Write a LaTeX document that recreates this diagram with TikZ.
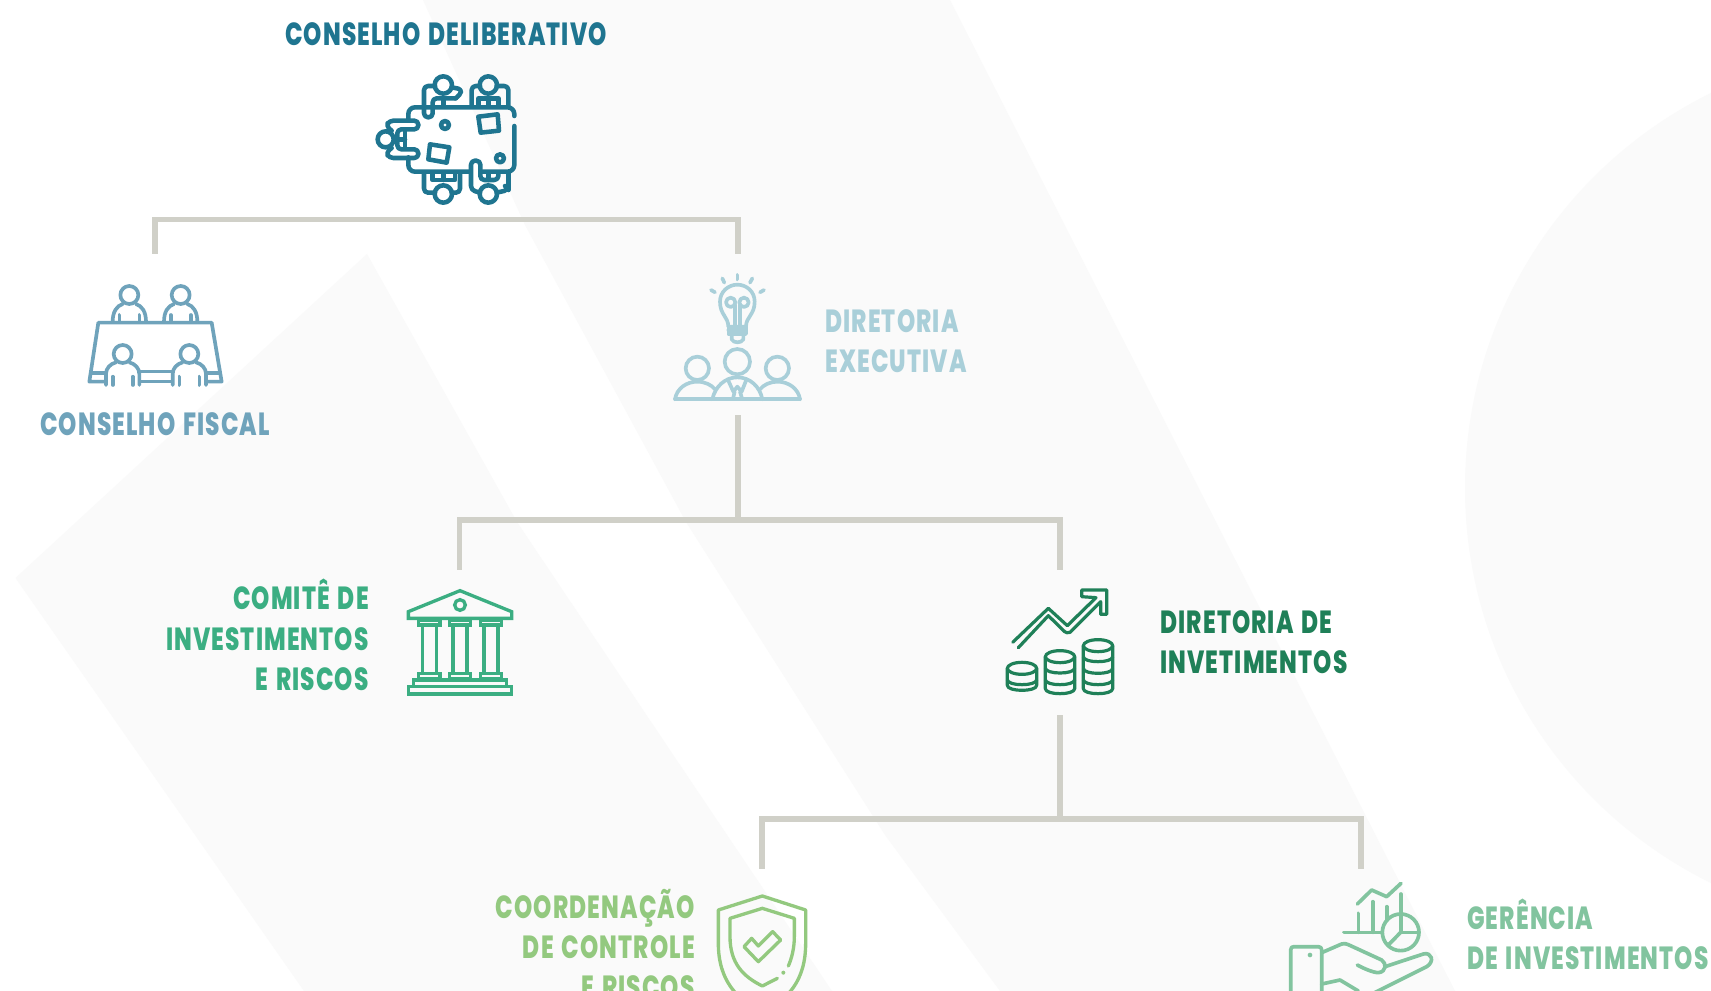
\documentclass[tikz,border=0pt]{standalone}
\usepackage{fontspec}
\newfontfamily\labf{Poppins}[FakeStretch=0.725,LetterSpace=3.5,BoldFont={Poppins ExtraBold},WordSpace=1.4]
\definecolor{bgband}{HTML}{FAFAFA}
\definecolor{connc}{HTML}{D0D0C8}
\definecolor{cdelib}{HTML}{1F7590}
\definecolor{cfisc}{HTML}{6FA3BB}
\definecolor{cexec}{HTML}{A9CFD9}
\definecolor{ccomi}{HTML}{3BAE82}
\definecolor{cinv}{HTML}{1F8058}
\definecolor{ccoord}{HTML}{93C97F}
\definecolor{cger}{HTML}{82C49F}
\tikzset{
 ic/.style={shift={#1},x=.25pt,y=-.25pt,line cap=round,line join=round,line width=3.3pt},
 conn/.style={draw=connc,line width=4.2pt},
 anchorbox/.style={inner sep=0pt,minimum width=20pt,minimum height=#1},
 lab/.style={inner sep=0pt,font=\labf\bfseries\fontsize{24}{30.2}\selectfont},
}
\begin{document}
\begin{tikzpicture}[x=.75pt,y=-.75pt]
\useasboundingbox (0,0) rectangle (1711,991);
\clip (0,0) rectangle (1711,991);
\fill[white] (0,0) rectangle (1711,991);
% background
\fill[bgband] (423,0) -- (950,0) -- (1455,991) -- (1000,991) -- (885,835) -- (686,522) -- (525,225) -- cycle;
\fill[bgband] (367,254) -- (15.5,578) -- (304,991) -- (832,991) -- (680,765) -- (517,522) -- cycle;
\fill[bgband] (1905,488) circle[radius=440];
% layout nodes
\node[anchorbox=10pt] (deliberativo) at (446,139) {};
\node[anchorbox=10pt] (fiscal) at (155,320) {};
\node[anchorbox=120.75pt] (exec) at (738,334.5) {};
\node[anchorbox=100.5pt] (comite) at (459.5,637) {};
\node[anchorbox=108.75pt] (dirinv) at (1060,642.5) {};
\node[anchorbox=100.5pt] (coord) at (762,936) {};
\node[anchorbox=100.5pt] (gerencia) at (1361,936) {};
\coordinate (fisctop) at (155,254);
\coordinate (bus1) at (446,219.5);
\coordinate (bus2) at (738,520);
\coordinate (bus3) at (1060,819);
% connectors
\draw[conn] (fisctop) |- (bus1) -| (exec.north);
\draw[conn] (exec.south) -- (bus2);
\draw[conn] (comite.north) |- (bus2) -| (dirinv.north);
\draw[conn] (dirinv.south) -- (bus3);
\draw[conn] (coord.north) |- (bus3) -| (gerencia.north);
% labels
\node[lab,text=cdelib] (t1) at (446,34) {CONSELHO DELIBERATIVO};
\node[lab,text=cfisc] (t2) at (155,424) {CONSELHO FISCAL};
\node[lab,text=cexec,align=left,anchor=west] (t3) at (825,341) {DIRETORIA\\EXECUTIVA};
\node[lab,text=ccomi,align=right,anchor=east] (t4) at (369,635) {COMITÊ DE\\INVESTIMENTOS\\E RISCOS};
\node[lab,text=cinv,align=left,anchor=west] (t5) at (1160,642) {DIRETORIA DE\\INVETIMENTOS};
\node[lab,text=ccoord,align=right,anchor=east] (t6) at (695,944) {COORDENAÇÃO\\DE CONTROLE\\E RISCOS};
\node[lab,text=cger,align=left,anchor=west] (t7) at (1467,934) {GERÊNCIA\\DE INVESTIMENTOS};
% icon: deliberativo
\begin{scope}[ic={(350,0)},draw=cdelib,line width=3.4pt]
 \draw[rounded corners=5pt] (175,362) -- (175,322) -- (493,322) -- (493,348);
 \draw[rounded corners=5pt] (493,378) -- (493,515) -- (398,515);
 \draw[rounded corners=5pt] (175,472) -- (175,515) -- (360,515);
 \draw (280,255) circle[radius=26];
 \draw (415,255) circle[radius=26];
 \draw (280,582) circle[radius=26];
 \draw (415,582) circle[radius=26];
 \draw (107,418) circle[radius=24];
 \draw[rounded corners=3pt] (255,258) -- (222,258) -- (222,352) -- (248,352) -- (248,295) -- (318,295);
 \draw[rounded corners=2.5pt] (305,262) -- (335,268) -- (330,285) -- (316,295);
 \draw (280,295) -- (280,318);
 \draw[rounded corners=3pt] (365,318) -- (365,258) -- (390,258);
 \draw[rounded corners=3pt] (440,258) -- (475,258) -- (475,318);
 \draw (385,318) -- (385,295) -- (445,295) -- (445,318);
 \draw (415,295) -- (415,318);
 \draw[rounded corners=3pt] (222,518) -- (222,578) -- (255,578);
 \draw (248,518) -- (248,540) -- (315,540) -- (315,518);
 \draw (280,540) -- (280,518);
 \draw[rounded corners=3pt] (330,518) -- (330,578) -- (305,578);
 \draw[rounded corners=3pt] (390,578) -- (363,570) -- (363,482) -- (391,482) -- (391,540) -- (445,540) -- (445,518);
 \draw (415,540) -- (415,518);
 \draw[rounded corners=3pt] (440,578) -- (475,570) -- (465,558);
 \draw (475,570) -- (475,518);
 \draw[rounded corners=3pt] (125,392) -- (108,378) -- (118,362) -- (205,362) -- (205,388) -- (142,388) -- (142,448) -- (205,448) -- (205,474) -- (118,474) -- (108,458) -- (125,444);
 \draw (142,418) -- (165,418);
 \draw (165,395) -- (165,440);
 \draw (385,350) -- (443,343) -- (447,392) -- (392,398) -- cycle;
 \draw (240,433) -- (298,442) -- (290,488) -- (235,478) -- cycle;
 \draw (285,375) circle[radius=12];
 \draw (450,475) circle[radius=12];
\end{scope}
% icon: fiscal
\begin{scope}[ic={(70,270)},draw=cfisc,line width=2.75pt]
 \draw (105,335) -- (58,335) -- (85,158) -- (425,158) -- (455,335) -- (410,335);
 \draw (65,310) -- (105,310);
 \draw (410,310) -- (450,310);
 \draw (210,305) -- (305,305);
 \draw (210,335) -- (305,335);
 \foreach \cx in {178,332} {
  \draw (\cx,75) circle[radius=27];
  \draw (\cx-50,155) .. controls (\cx-50,125) and (\cx-38,108) .. (\cx-20,102);
  \draw (\cx+50,155) .. controls (\cx+50,125) and (\cx+38,108) .. (\cx+20,102);
  \draw (\cx-30,135) -- (\cx-30,155);
  \draw (\cx+30,135) -- (\cx+30,155);
 }
 \foreach \cx in {158,358} {
  \draw (\cx,252) circle[radius=27];
  \draw (\cx-50,345) -- (\cx-50,312) .. controls (\cx-50,295) and (\cx-38,282) .. (\cx-20,277);
  \draw (\cx+50,345) -- (\cx+50,312) .. controls (\cx+50,295) and (\cx+38,282) .. (\cx+20,277);
  \draw (\cx-30,320) -- (\cx-30,345);
  \draw (\cx+30,320) -- (\cx+30,345);
 }
\end{scope}
% icon: executiva
\begin{scope}[ic={(660,260)},draw=cexec,line width=2.75pt]
 \draw (232,45) -- (232,58);
 \draw (187,55) -- (193,68);
 \draw (277,55) -- (270,68);
 \draw (153,90) -- (165,97);
 \draw (312,90) -- (300,97);
 \draw (205,200) .. controls (205,170) and (180,165) .. (180,125) .. controls (180,95) and (205,74) .. (232,74) .. controls (260,74) and (284,95) .. (284,125) .. controls (284,165) and (258,170) .. (258,200) -- cycle;
 \draw (205,200) -- (205,222) -- (258,222) -- (258,200);
 \draw (205,211) -- (258,211);
 \draw (215,222) -- (215,238) .. controls (220,250) and (245,250) .. (250,238) -- (250,222);
 \draw (212,127) circle[radius=14];
 \draw (252,127) circle[radius=14];
 \draw (224,135) -- (224,198);
 \draw (240,135) -- (240,198);
 \draw (232,305) circle[radius=38];
 \draw (112,325) circle[radius=35];
 \draw (352,325) circle[radius=35];
 \draw (45,418) -- (420,418);
 \draw (45,418) .. controls (50,385) and (80,365) .. (112,365) .. controls (135,365) and (155,375) .. (165,388);
 \draw (157,418) .. controls (165,380) and (195,352) .. (232,352) .. controls (270,352) and (300,380) .. (307,418);
 \draw (420,418) .. controls (415,385) and (385,365) .. (352,365) .. controls (330,365) and (310,375) .. (300,388);
 \draw (205,362) -- (220,395) -- (232,380) -- (245,395) -- (258,362);
 \draw (224,395) -- (220,412);
 \draw (240,395) -- (245,412);
\end{scope}
% icon: banco
\begin{scope}[ic={(390,575)},draw=ccomi,line cap=butt,line join=miter,line width=2.5pt]
 \draw (55,110) -- (210,47) -- (365,110) -- (365,130) -- (55,130) -- cycle;
 \draw (210,90) circle[radius=16];
 \foreach \cx in {118,210,303} {
  \draw (\cx-32,135) rectangle (\cx+32,150);
  \draw (\cx-32,295) rectangle (\cx+32,312);
  \draw (\cx-21,150) -- (\cx-21,295);
  \draw (\cx+21,150) -- (\cx+21,295);
 }
 \draw (70,335) -- (70,315) -- (350,315) -- (350,335);
 \draw (55,335) rectangle (365,357);
\end{scope}
% icon: investimentos
\begin{scope}[ic={(990,575)},draw=cinv,line width=2.4pt]
 \draw (68,202) -- (175,100) -- (232,152) -- (318,68) -- (275,65) -- (275,45) -- (350,45) -- (350,118) -- (332,118) -- (332,80) -- (240,172) .. controls (232,176) and (228,172) .. (224,170) -- (175,122) -- (85,218);
 \foreach \cx/\ty/\by in {96/280/345,210/245/355,324/212/355} {
  \draw (\cx,\ty) ellipse[x radius=44,y radius=18];
  \draw (\cx-44,\ty) -- (\cx-44,\by-14) .. controls (\cx-44,\by+6) and (\cx+44,\by+6) .. (\cx+44,\by-14) -- (\cx+44,\ty);
 }
 \foreach \cx/\yy in {96/322,210/287,210/322,324/253,324/288,324/322} {
  \draw (\cx-44,\yy-8) .. controls (\cx-44,\yy+12) and (\cx+44,\yy+12) .. (\cx+44,\yy-8);
 }
\end{scope}
% icon: escudo
\begin{scope}[ic={(700,880)},draw=ccoord,line width=2.5pt]
 \draw (187,395) .. controls (110,360) and (55,300) .. (55,190) -- (55,90) -- (187,48) -- (317,90) -- (317,190) .. controls (317,300) and (265,360) .. (187,395);
 \draw (232,295) -- (187,318) .. controls (130,290) and (90,250) .. (90,170) -- (90,115) -- (187,85) -- (283,115) -- (283,170) .. controls (283,205) and (275,235) .. (265,258);
 \fill[ccoord] (250,278) circle[radius=6];
 \draw (132,200) -- (155,175) -- (175,198) -- (218,155) -- (242,180) -- (175,245) -- cycle;
\end{scope}
% icon: gerencia
\begin{scope}[ic={(1270,870)},draw=cger,line width=2.75pt]
 \draw (265,130) -- (265,187);
 \draw (308,95) -- (308,187);
 \draw (350,110) -- (350,150);
 \draw (392,72) -- (392,135);
 \draw (222,187) -- (335,187);
 \draw (262,102) -- (305,60) -- (350,80) -- (393,40);
 \draw (392,187) circle[radius=55];
 \draw (392,135) -- (392,187) -- (445,187);
 \draw (392,187) -- (355,225);
 \draw (62,380) -- (62,240) .. controls (62,232) and (66,230) .. (72,230) -- (145,230) .. controls (152,230) and (155,234) .. (155,240) -- (155,380);
 \fill[cger] (120,255) circle[radius=7];
 \draw (155,248) -- (215,222) .. controls (222,220) and (228,220) .. (235,224) -- (335,270) .. controls (350,280) and (350,305) .. (325,308) .. controls (310,308) and (280,295) .. (262,285);
 \draw (345,290) -- (460,252) .. controls (485,245) and (495,275) .. (470,290) -- (310,370);
 \draw (155,342) -- (210,330) -- (265,363);
\end{scope}
\end{tikzpicture}
\end{document}
